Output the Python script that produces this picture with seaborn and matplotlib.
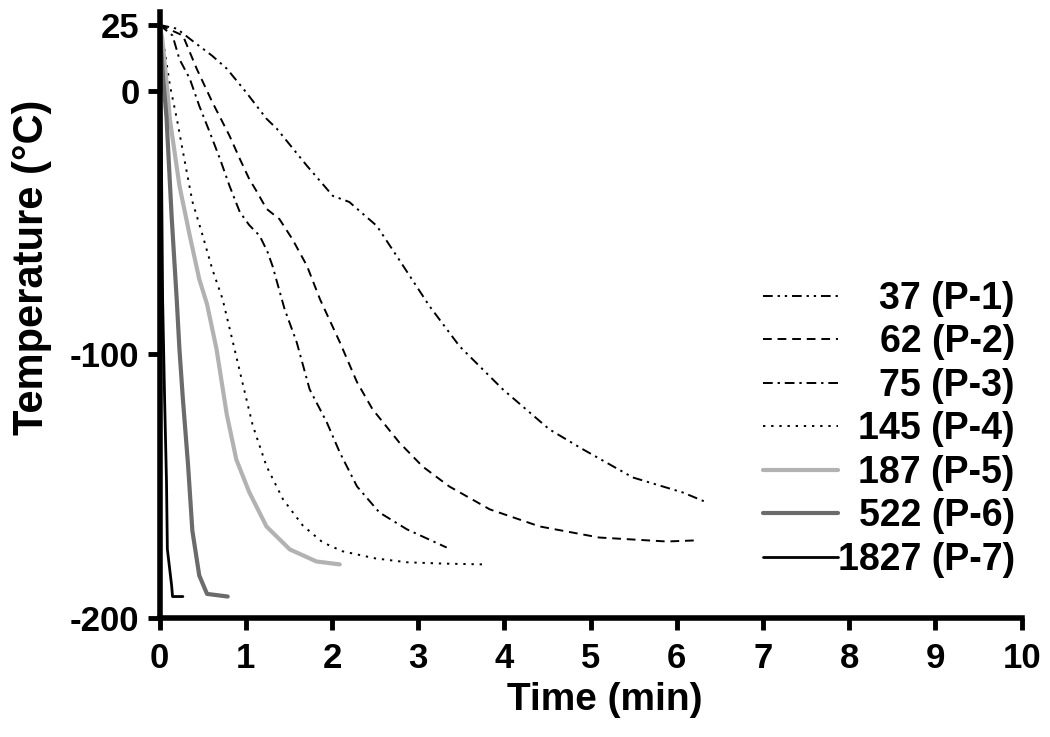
import numpy as np
import pandas as pd
import matplotlib
matplotlib.use("Agg")
import matplotlib.pyplot as plt
import seaborn as sns

# cooling curves: time (min), temperature (degC)
p1_time = [0, 0.20, 0.38, 0.61, 0.78, 1.00, 1.24, 1.36, 1.71, 2.01, 2.20, 2.52,
           2.75, 3.13, 3.48, 3.98, 4.52, 4.91, 5.49, 6.07, 6.35]
p1_temp = [25, 23.6, 19.0, 13.3, 8.4, -0.4, -10.6, -14.4, -28.5, -39.9, -42.2,
           -51.3, -62.7, -81.7, -97.0, -113.3, -128.5, -136.1, -146.8, -152.5,
           -156.3]

p2_time = [0, 0.27, 0.43, 0.61, 0.81, 0.93, 1.04, 1.13, 1.24, 1.39, 1.54, 1.71,
           1.86, 2.09, 2.29, 2.47, 2.78, 3.05, 3.36, 3.83, 4.41, 5.10, 5.88, 6.21]
p2_temp = [25, 21, 8.4, -4.2, -17, -25.8, -33.5, -38.4, -44.8, -48.7, -56.3,
           -66.5, -79.1, -95.4, -110.6, -120.9, -133.5, -142.6, -150.2, -158.9,
           -165.4, -169.6, -171.1, -170.7]

p3_time = [0, 0.15, 0.23, 0.35, 0.46, 0.58, 0.70, 0.81, 0.93, 1.04, 1.16, 1.25,
           1.31, 1.45, 1.59, 1.74, 1.94, 2.09, 2.29, 2.55, 2.87, 3.33]
p3_temp = [25, 21, 12, 4.6, -5.7, -15.6, -25.8, -36, -46, -51, -55, -61, -66.5,
           -82.9, -95.4, -113.3, -125.9, -137.3, -150.2, -160.1, -166.5, -173.4]

p4_time = [0, 0.06, 0.12, 0.20, 0.27, 0.38, 0.50, 0.61, 0.73, 0.85, 0.96, 1.08,
           1.24, 1.43, 1.66, 1.89, 2.12, 2.50, 2.87, 3.30, 3.75]
p4_temp = [25, 15, 2, -10.6, -23, -42, -55, -67.6, -79, -95.4, -110.6, -127,
           -142.5, -155, -165, -171.4, -174.8, -177.5, -179, -179.5, -179.8]

p5_time = [0, 0.03, 0.09, 0.12, 0.23, 0.35, 0.46, 0.55, 0.66, 0.78, 0.89, 1.04,
           1.24, 1.51, 1.82, 2.09]
p5_temp = [25, 20, 0, -11, -36, -55, -71.5, -81, -98, -123, -140, -152.4,
           -165.4, -174.1, -178.7, -179.8]

p6_time = [0, 0.04, 0.08, 0.14, 0.20, 0.23, 0.27, 0.33, 0.38, 0.46, 0.55, 0.79]
p6_temp = [25, 5, -10, -48, -80, -98, -117, -142, -167, -184, -191, -192]

p7_time = [0, 0.02, 0.035, 0.058, 0.08, 0.09, 0.14, 0.15, 0.27]
p7_temp = [25, -20, -79, -117, -148.5, -174, -188, -192, -192]

labels = ["37 (P-1)", "62 (P-2)", "75 (P-3)", "145 (P-4)",
          "187 (P-5)", "522 (P-6)", "1827 (P-7)"]
x_ticks = list(range(0, 11))
y_ticks = [25, 0, -100, -200]

series = [
    (p1_time, p1_temp, "black", 1.4, (0, (5, 2.5, 1.2, 2.5, 1.2, 2.5))),
    (p2_time, p2_temp, "black", 1.4, (0, (4.5, 3))),
    (p3_time, p3_temp, "black", 1.4, (0, (5, 2.5, 1.2, 2.5))),
    (p4_time, p4_temp, "black", 1.4, (0, (1.2, 3))),
    (p5_time, p5_temp, "#b2b2b2", 3.0, "-"),
    (p6_time, p6_temp, "#6b6b6b", 3.0, "-"),
    (p7_time, p7_temp, "black", 2.0, "-"),
]

sns.set_style("ticks")
plt.rcParams["font.family"] = ["Liberation Sans", "DejaVu Sans"]
plt.rcParams["font.weight"] = "bold"
plt.rcParams["axes.unicode_minus"] = False
plt.rcParams["text.color"] = "black"
plt.rcParams["axes.labelcolor"] = "black"
plt.rcParams["xtick.color"] = "black"
plt.rcParams["ytick.color"] = "black"

fig = plt.figure(figsize=(10.5, 7.37), dpi=100)
ax = fig.add_axes([0.152, 0.162, 0.821, 0.822])

for (t, temp, color, lw, ls), lab in zip(series, labels):
    df = pd.DataFrame({"time": t, "temp": temp})
    sns.lineplot(data=df, x="time", y="temp", ax=ax, color=color,
                 linewidth=lw, linestyle=ls, label=lab, estimator=None,
                 sort=False, clip_on=False)

ax.set_xlim(0, 10)
ax.set_ylim(-200, 30)
ax.set_xticks(x_ticks)
ax.set_yticks(y_ticks)
ax.tick_params(axis="both", direction="out", length=8.5, width=3.5,
               labelsize=25, color="black", labelcolor="black")
ax.tick_params(axis="x", pad=9)
ax.tick_params(axis="y", pad=6)
for lab in ax.get_xticklabels() + ax.get_yticklabels():
    lab.set_fontweight("bold")

for side in ["left", "bottom"]:
    ax.spines[side].set_linewidth(4)
    ax.spines[side].set_color("black")
sns.despine(ax=ax)

ax.set_xlabel("Time (min)", fontsize=28, fontweight="bold", color="black")
ax.set_ylabel("Temperature (°C)", fontsize=30, fontweight="bold", color="black")
ax.xaxis.set_label_coords(0.516, -0.106)
ax.yaxis.set_label_coords(-0.125, 0.578)

leg = ax.legend(loc="upper right", bbox_to_anchor=(0.992, 0.556),
                frameon=False, fontsize=27, handlelength=2.0,
                handletextpad=0.0, labelspacing=0.2, borderpad=0,
                borderaxespad=0, labelcolor="black")

# right-align legend labels like the original figure
fig.canvas.draw()
renderer = fig.canvas.get_renderer()
widths = [t.get_window_extent(renderer).width for t in leg.get_texts()]
wmax = max(widths)
for t, w in zip(leg.get_texts(), widths):
    t.set_position((wmax - w, 0))

fig.savefig("out.png", dpi=100)
plt.close()
